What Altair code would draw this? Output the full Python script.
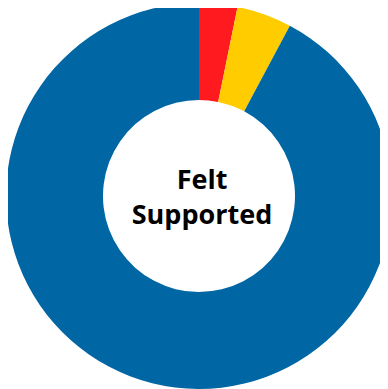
import altair as alt
import pandas as pd

categories = ["Not supported", "Somewhat supported", "Felt supported"]
values = [3.2, 4.6, 92.2]
colors = ["#FF1A1F", "#FFCC00", "#0066A4"]
center_lines = ["Felt", "Supported"]

df = pd.DataFrame({"category": categories, "value": values, "order": list(range(len(categories)))})

cx, cy = 191, 188

donut = alt.Chart(df).mark_arc(innerRadius=96, outerRadius=193, x=cx, y=cy).encode(
    theta=alt.Theta("value:Q", stack=True),
    color=alt.Color("category:N", scale=alt.Scale(domain=categories, range=colors), legend=None),
    order=alt.Order("order:Q"),
)

label = alt.Chart(pd.DataFrame({"t": ["\n".join(center_lines)]})).mark_text(
    x=cx + 3, y=cy - 7, font="Open Sans", fontWeight="bold", fontSize=27,
    lineBreak="\n", lineHeight=35, align="center", baseline="alphabetic", color="#000000"
).encode(text="t:N")

chart = alt.layer(donut, label).properties(
    width=372, height=381, padding=0, autosize=alt.AutoSizeParams(type="none")
).configure_view(stroke=None)

chart.save("out.html", embed_options={"renderer": "svg", "actions": False})
